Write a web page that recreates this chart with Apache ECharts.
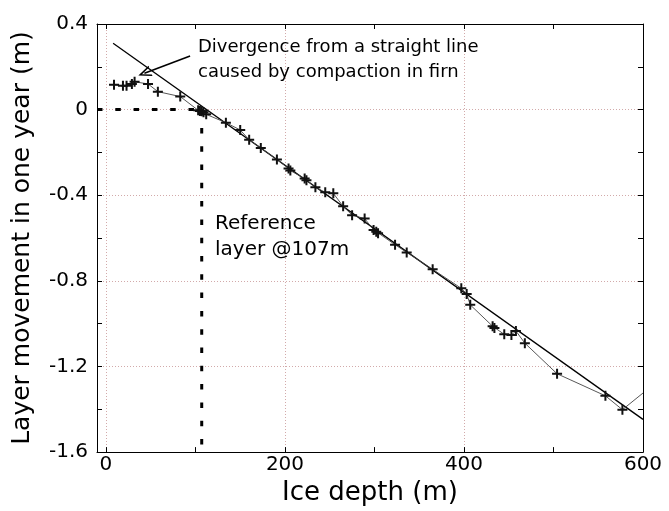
<!DOCTYPE html>
<html>
<head>
<meta charset="utf-8">
<script src="https://cdn.jsdelivr.net/npm/echarts@6/dist/echarts.min.js"></script>
<style>
html,body{margin:0;padding:0;background:#fff;}
#chart{width:669px;height:511px;}
</style>
</head>
<body>
<div id="chart"></div>
<script>
// ---- data ----
const depth = [9, 19, 23, 29, 32, 47, 58, 83, 103, 105, 107, 109, 112, 134, 150, 160, 173, 191, 204, 206, 222, 224, 234, 245, 254, 265, 275, 289, 299, 302, 304, 323, 336, 365, 397, 403, 407, 432, 434, 445, 453, 458, 468, 504, 558, 577, 600];
const movement = [0.116, 0.112, 0.112, 0.12, 0.13, 0.12, 0.084, 0.061, -0.003, -0.006, -0.008, -0.012, -0.022, -0.061, -0.095, -0.141, -0.179, -0.233, -0.275, -0.285, -0.322, -0.33, -0.363, -0.386, -0.391, -0.452, -0.493, -0.509, -0.562, -0.57, -0.578, -0.631, -0.667, -0.746, -0.835, -0.861, -0.912, -1.012, -1.02, -1.05, -1.053, -1.034, -1.091, -1.234, -1.337, -1.402, -1.324];
const fitDepth = [8, 600];
const fitMove = [0.31, -1.447];
const refLayerDepth = 107;
const refH = [[-10, 0], [refLayerDepth, 0]];
const refV = [[refLayerDepth, 0], [refLayerDepth, -1.6]];
const arrowFrom = [94, 0.25];
const arrowTo = [43, 0.17];
const xMin = -10, xMax = 600;
const yMin = -1.6, yMax = 0.4, yStep = 0.4;
const xTitle = 'Ice depth (m)';
const yTitle = 'Layer movement in one year (m)';
const note1 = 'Divergence from a straight line\ncaused by compaction in firn';
const note2 = 'Reference\nlayer @107m';

const FONT = 'DejaVu Sans';
const gridColor = '#d2aaaa';
const plusPath = 'path://M4,0H6V4H10V6H6V10H4V6H0V4H4Z';

const chart = echarts.init(document.getElementById('chart'), null, {renderer: 'canvas'});

function xAx(pos, main) {
  return {
    type: 'value', position: pos, min: xMin, max: xMax, splitNumber: 3,
    axisLine: {show: true, onZero: false, lineStyle: {color: '#000', width: 1}},
    axisTick: {show: true, inside: true, length: 5, lineStyle: {color: '#000', width: 1}},
    minorTick: {show: true, splitNumber: 2, length: 5, lineStyle: {color: '#000', width: 1}},
    axisLabel: main ? {show: true, color: '#000', fontSize: 20, fontFamily: FONT, margin: 3,
      showMinLabel: false, formatter: v => (v < 0 ? '' : String(v))} : {show: false},
    splitLine: main ? {show: true, showMinLine: false, showMaxLine: false,
      lineStyle: {type: [1, 2], color: gridColor, width: 1}} : {show: false},
    name: main ? xTitle : '', nameLocation: 'middle', nameGap: 24,
    nameTextStyle: {color: '#000', fontSize: 26, fontFamily: FONT}
  };
}
function yAx(pos, main) {
  return {
    type: 'value', position: pos, min: yMin, max: yMax, interval: yStep,
    axisLine: {show: true, onZero: false, lineStyle: {color: '#000', width: 1}},
    axisTick: {show: true, inside: true, length: 5, lineStyle: {color: '#000', width: 1}},
    minorTick: {show: true, splitNumber: 2, length: 5, lineStyle: {color: '#000', width: 1}},
    axisLabel: main ? {show: true, color: '#000', fontSize: 20, fontFamily: FONT, margin: 9,
      formatter: v => { const r = Math.round(v * 10) / 10; return r === 0 ? '0' : String(r); }} : {show: false},
    splitLine: main ? {show: true, showMinLine: false, showMaxLine: false,
      lineStyle: {type: [1, 2], color: gridColor, width: 1}} : {show: false},
    name: main ? yTitle : '', nameLocation: 'middle', nameGap: 62,
    nameTextStyle: {color: '#000', fontSize: 25, fontFamily: FONT}
  };
}

const measured = depth.map((d, i) => {
  const item = {value: [d, movement[i]]};
  if (i === depth.length - 1) item.symbol = 'none';
  return item;
});

const option = {
  animation: false,
  backgroundColor: '#fff',
  grid: {left: 97, right: 26, top: 24, bottom: 53},
  xAxis: [xAx('bottom', true), xAx('top', false)],
  yAxis: [yAx('left', true), yAx('right', false)],
  series: [
    {
      type: 'line', name: 'refH', data: refH, symbol: 'none', z: 3,
      lineStyle: {color: '#000', width: 3, type: [5.5, 12.8]}
    },
    {
      type: 'line', name: 'refV', data: refV, symbol: 'none', z: 3,
      lineStyle: {color: '#000', width: 3, type: [5.5, 12.8]}
    },
    {
      type: 'line', name: 'fit', data: fitDepth.map((d, i) => [d, fitMove[i]]), symbol: 'none', z: 4,
      lineStyle: {color: '#000', width: 1.3},
      markLine: {
        silent: true, animation: false,
        symbol: ['none', 'path://M0,14L6,0L12,14L10.2,14L6,4.2L1.8,14Z'], symbolSize: [11, 13],
        itemStyle: {color: '#000', borderWidth: 0},
        lineStyle: {color: '#000', width: 1.6, type: 'solid'},
        label: {show: false},
        data: [[{coord: arrowFrom}, {coord: arrowTo}]]
      }
    },
    {
      type: 'line', name: 'measured', data: measured, z: 5,
      symbol: plusPath, symbolSize: 10,
      itemStyle: {color: '#111'},
      lineStyle: {color: '#444', width: 0.9}
    }
  ],
  graphic: [
    {type: 'text', left: 198, top: 35, z: 10,
      style: {text: note1, font: '18px "DejaVu Sans"', fill: '#000', lineHeight: 25}},
    {type: 'text', left: 215, top: 211, z: 10,
      style: {text: note2, font: '20px "DejaVu Sans"', fill: '#000', lineHeight: 26}}
  ]
};
chart.setOption(option);
</script>
</body>
</html>
